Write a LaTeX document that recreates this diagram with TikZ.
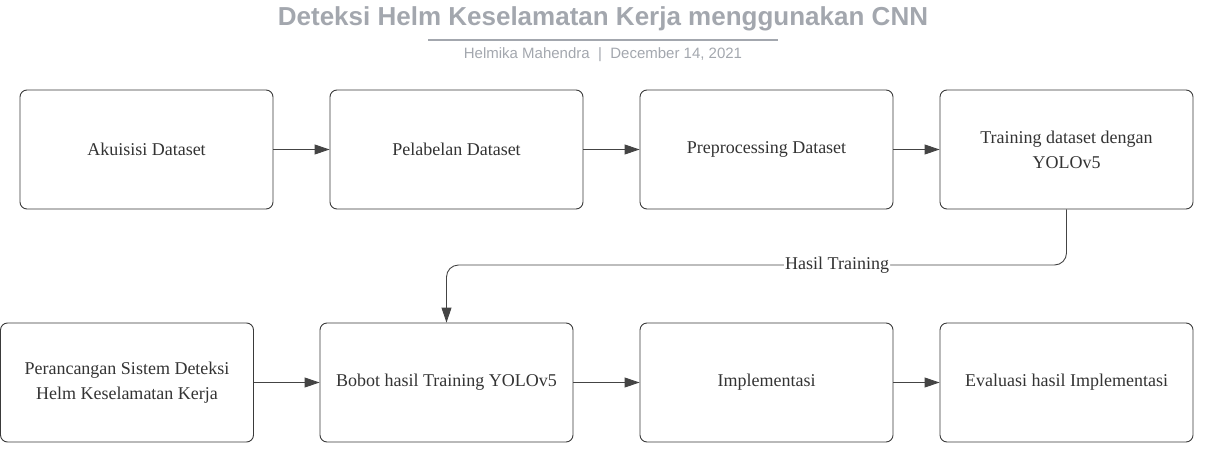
\documentclass[tikz,border=0pt]{standalone}
\usepackage{fontspec}
\setmainfont{Liberation Serif}
\newfontfamily\titlefont{Liberation Sans}
\usetikzlibrary{arrows.meta}
\definecolor{titlec}{HTML}{A3A7AE}
\definecolor{boxc}{HTML}{3A3A3A}
\definecolor{linec}{HTML}{444444}
\definecolor{textc}{HTML}{333333}
\begin{document}
\begin{tikzpicture}[x=1pt,y=-1pt,
  stepbox/.style={draw=boxc, line width=0.9pt, rounded corners=7pt, minimum width=253pt, minimum height=119pt, align=center, text=textc, font=\fontsize{18}{25}\selectfont, inner sep=0pt},
  flow/.style={draw=linec, line width=0.9pt, -{Triangle[length=15pt,width=10pt]}},
  lbl/.style={fill=white, text=textc, font=\fontsize{18}{22}\selectfont, inner sep=1pt}]
\useasboundingbox (0,0) rectangle (1210,458);
\node[font=\titlefont\bfseries\fontsize{26}{30}\selectfont, text=titlec] (title) at (603,19) {Deteksi Helm Keselamatan Kerja menggunakan CNN};
\coordinate (ul1) at (428,40);
\coordinate (ul2) at (778,40);
\draw[titlec, line width=2pt] (ul1) -- (ul2);
\node[font=\titlefont\fontsize{15}{18}\selectfont, text=titlec] (sub) at (603,55) {Helmika Mahendra \ | \ December 14, 2021};

\node[stepbox] (b1) at (146.5,149.5) {Akuisisi Dataset};
\node[stepbox] (b2) at (456.5,149.5) {Pelabelan Dataset};
\node[stepbox] (b3) at (766.5,149.5) {Preprocessing Dataset};
\node[stepbox] (b4) at (1066.5,149.5) {Training dataset dengan\\YOLOv5};
\node[stepbox] (b5) at (127,382.5) {Perancangan Sistem Deteksi\\Helm Keselamatan Kerja};
\node[stepbox] (b6) at (446.5,382.5) {Bobot hasil Training YOLOv5};
\node[stepbox] (b7) at (766.5,382.5) {Implementasi};
\node[stepbox] (b8) at (1066.5,382.5) {Evaluasi hasil Implementasi};

\draw[flow] (b1) -- (b2);
\draw[flow] (b2) -- (b3);
\draw[flow] (b3) -- (b4);
\draw[flow] (b5) -- (b6);
\draw[flow] (b6) -- (b7);
\draw[flow] (b7) -- (b8);
\coordinate (mid) at (0,265);
\draw[flow, rounded corners=12pt] (b4.south) -- (b4.south |- mid) -- node[lbl, pos=0.37] {Hasil Training} (b6.north |- mid) -- (b6.north);
\end{tikzpicture}
\end{document}
